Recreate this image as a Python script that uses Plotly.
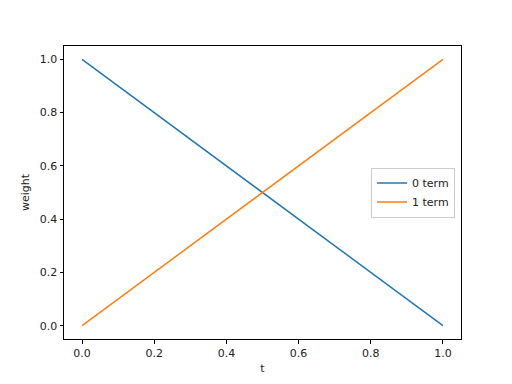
import plotly.graph_objects as go

t = [0.0, 1.0]
w0 = [1.0, 0.0]
w1 = [0.0, 1.0]
names = ["0 term", "1 term"]
colors = ["#1f77b4", "#ff7f0e"]
ticks = [0.0, 0.2, 0.4, 0.6, 0.8, 1.0]
tick_text = ["0.0", "0.2", "0.4", "0.6", "0.8", "1.0"]

fig = go.Figure()
for ys, nm, c in zip([w0, w1], names, colors):
    fig.add_trace(go.Scatter(x=t, y=ys, mode="lines", name=nm,
                             line=dict(color=c, width=1.5)))

axis_common = dict(showline=True, linecolor="black", linewidth=1, mirror=True,
                   ticks="outside", ticklen=3.5, tickwidth=1, tickcolor="black",
                   showgrid=False, zeroline=False, tickvals=ticks, ticktext=tick_text,
                   tickfont=dict(size=11, color="#222"), range=[-0.05, 1.05])

fig.update_layout(
    width=512, height=384,
    margin=dict(l=64, r=51, t=46, b=42),
    paper_bgcolor="white", plot_bgcolor="white",
    font=dict(family="DejaVu Sans", size=11, color="#222"),
    xaxis=dict(axis_common, title=dict(text="t", font=dict(size=11), standoff=5)),
    yaxis=dict(axis_common, title=dict(text="weight", font=dict(size=11), standoff=7)),
    legend=dict(x=0.985, y=0.5, xanchor="right", yanchor="middle",
                bgcolor="white", bordercolor="#ccc", borderwidth=1,
                font=dict(size=11), tracegroupgap=0),
    showlegend=True,
)

fig.write_html("out.html")
